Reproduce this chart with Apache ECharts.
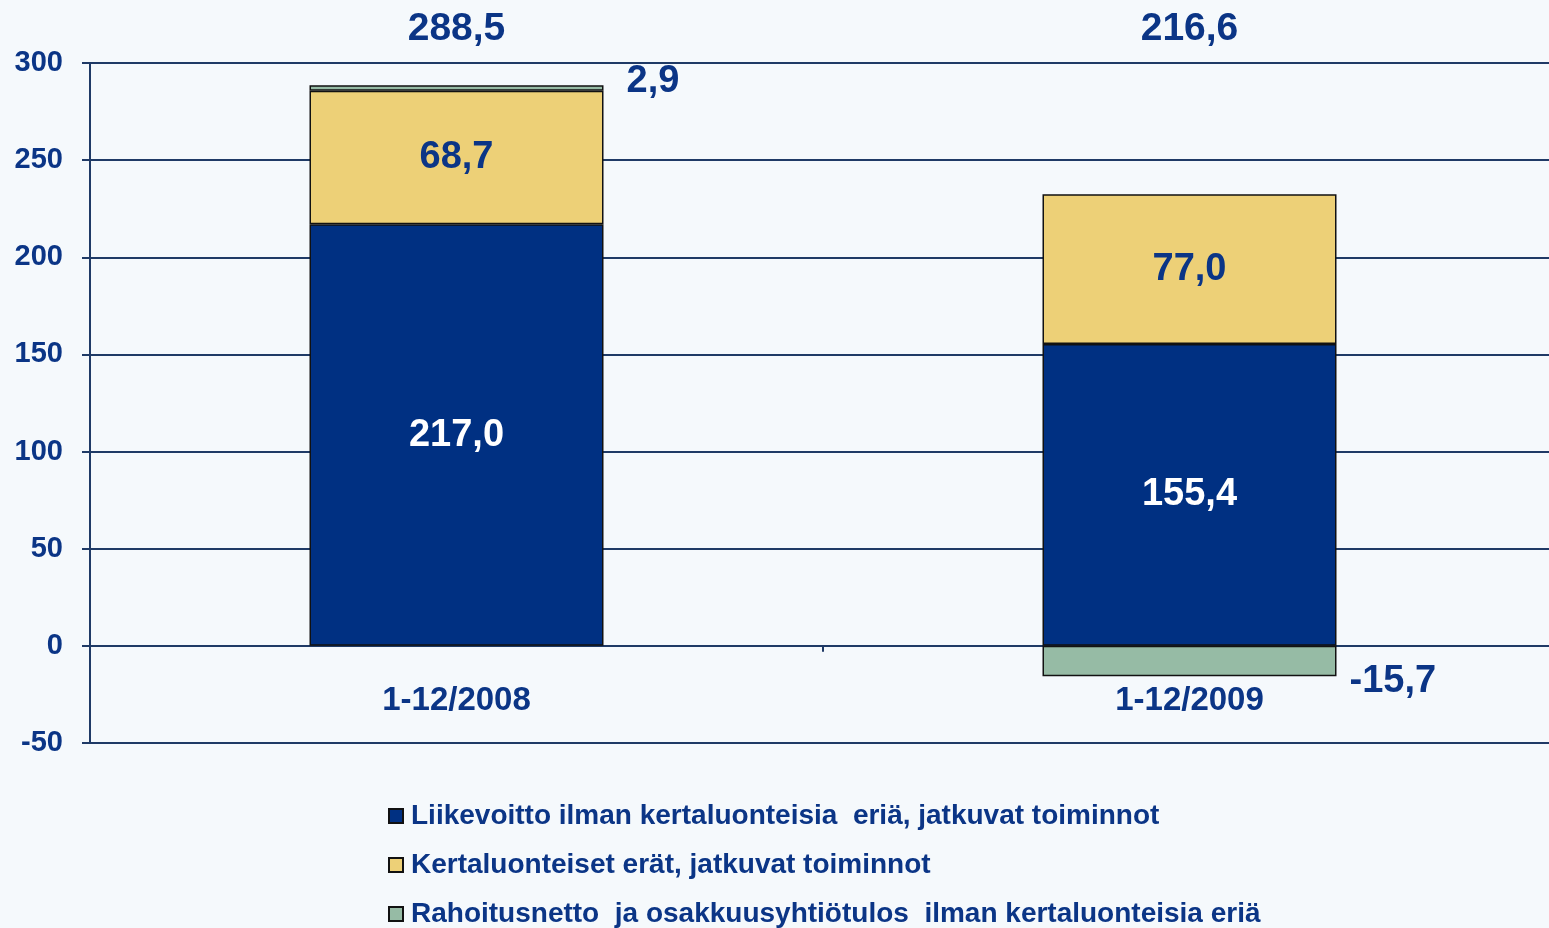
<!DOCTYPE html>
<html>
<head>
<meta charset="utf-8">
<script src="https://cdn.jsdelivr.net/npm/echarts@6/dist/echarts.min.js"></script>
<style>
  html, body { margin: 0; padding: 0; background: #f5f9fc; }
  #chart { width: 1549px; height: 928px; }
</style>
</head>
<body>
<div id="chart"></div>
<script>
// kaudet
var categories = ['1-12/2008', '1-12/2009'];
// sarjat
var liikevoitto = [217.0, 155.4];
var kertaluonteiset = [68.7, 77.0];
var rahoitusnetto = [2.9, -15.7];
var yhteensa = [288.5, 216.6];
var seriesNames = [
    'Liikevoitto ilman kertaluonteisia  eriä, jatkuvat toiminnot',
    'Kertaluonteiset erät, jatkuvat toiminnot',
    'Rahoitusnetto  ja osakkuusyhtiötulos  ilman kertaluonteisia eriä'
];

var navy = '#0b3586';
var lineColor = '#1f3a66';
var font = 'Liberation Sans, Arial, sans-serif';

function fmt(v) {
    return v.toFixed(1).replace('.', ',');
}

var myChart = echarts.init(document.getElementById('chart'));

//vihreän osan tunnisteet palkin oikealle puolelle
var greenData = rahoitusnetto.map(function (v) {
    return {
        value: v,
        label: {
            show: true,
            position: 'right',
            offset: v >= 0 ? [18, -6] : [8, 20]
        }
    };
});

var option = {
    backgroundColor: '#f5f9fc',
    animation: false,
    textStyle: { fontFamily: font },
    grid: { left: 90, width: 1466, top: 63, bottom: 185, outerBoundsMode: 'none' },
    legend: {
        orient: 'vertical',
        left: 388,
        top: 802,
        padding: 0,
        itemWidth: 14,
        itemHeight: 14,
        itemGap: 21,
        icon: 'rect',
        textStyle: { color: navy, fontSize: 28, fontWeight: 'bold', fontFamily: font, padding: [0, 0, 0, 3] },
        data: seriesNames
    },
    xAxis: [
        {
            type: 'category',
            data: categories,
            axisLine: { onZero: true, lineStyle: { color: lineColor, width: 2 } },
            axisTick: { show: true, length: 6, lineStyle: { color: lineColor, width: 2 } },
            axisLabel: { color: navy, fontSize: 33, fontWeight: 'bold', margin: -59 },
            splitLine: { show: false }
        },
        {
            type: 'category',
            position: 'top',
            data: yhteensa.map(fmt),
            axisLine: { show: false },
            axisTick: { show: false },
            axisLabel: { color: navy, fontSize: 39, fontWeight: 'bold', margin: 14 },
            splitLine: { show: false }
        }
    ],
    yAxis: {
        type: 'value',
        min: -50,
        max: 300,
        interval: 50,
        axisLine: { show: true, lineStyle: { color: lineColor, width: 2 } },
        axisTick: { show: true, length: 8, lineStyle: { color: lineColor, width: 2 } },
        axisLabel: { color: navy, fontSize: 29, fontWeight: 'bold', margin: 27 },
        splitLine: { show: true, lineStyle: { color: lineColor, width: 2 } }
    },
    series: [
        {
            name: seriesNames[0],
            type: 'bar',
            stack: 'yht',
            barWidth: 294,
            data: liikevoitto,
            itemStyle: { color: '#003082', borderColor: '#111', borderWidth: 1.5 },
            label: {
                show: true,
                position: 'inside',
                color: '#ffffff',
                fontSize: 38,
                fontWeight: 'bold',
                formatter: function (p) { return fmt(p.value); }
            }
        },
        {
            name: seriesNames[1],
            type: 'bar',
            stack: 'yht',
            data: kertaluonteiset,
            itemStyle: { color: '#edd077', borderColor: '#111', borderWidth: 1.5 },
            label: {
                show: true,
                position: 'inside',
                color: navy,
                fontSize: 38,
                fontWeight: 'bold',
                formatter: function (p) { return fmt(p.value); }
            }
        },
        {
            name: seriesNames[2],
            type: 'bar',
            stack: 'yht',
            data: greenData,
            itemStyle: { color: '#96bba5', borderColor: '#111', borderWidth: 1.5 },
            label: {
                color: navy,
                fontSize: 38,
                fontWeight: 'bold',
                formatter: function (p) { return fmt(p.value); }
            }
        }
    ]
};

myChart.setOption(option);
</script>
</body>
</html>
